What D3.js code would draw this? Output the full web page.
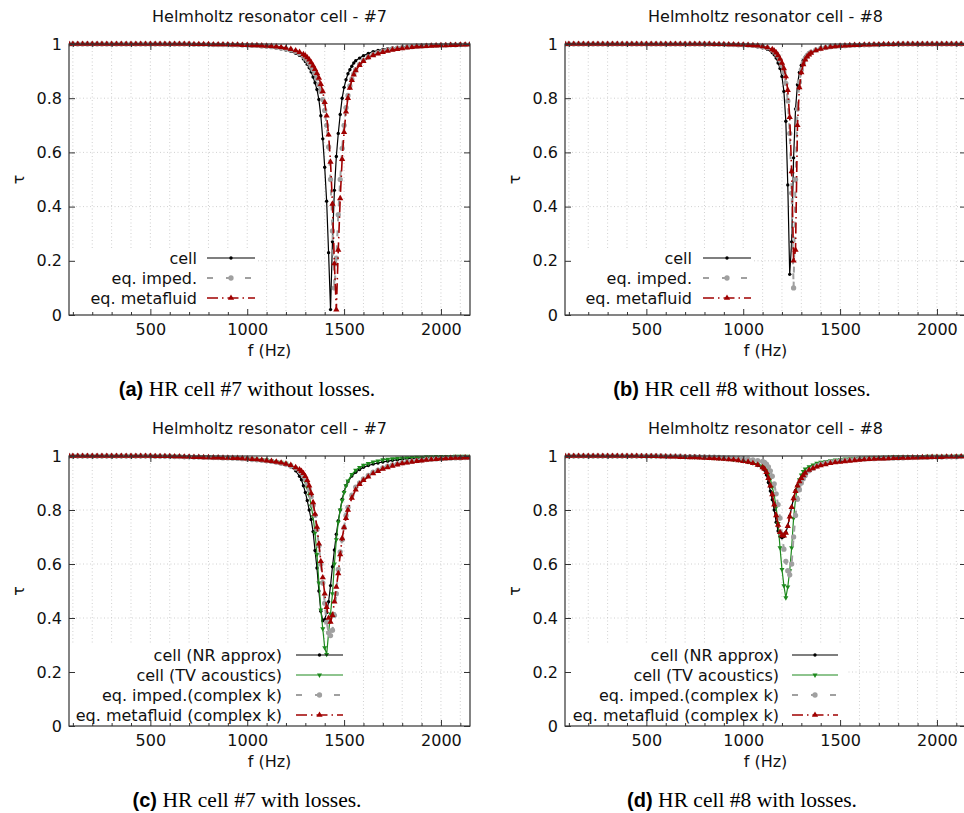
<!DOCTYPE html>
<html>
<head>
<meta charset="utf-8">
<script src="https://cdn.jsdelivr.net/npm/d3@7"></script>
<style>
  body { margin: 0; background: #fff; }
  svg { display: block; }
</style>
</head>
<body>
<svg width="964" height="813"></svg>
<script>
// frequency grids (Hz) and transmission values

// (a) cell #7 without losses
var freqA = [80,
  100, 125, 150, 175, 200, 225, 250, 275, 300, 325, 350, 375, 400, 425, 450, 475, 500,
  525, 550, 575, 600, 625, 650, 675, 700,
  725, 750, 775, 800, 825, 850, 875, 900, 925, 950, 975, 1000, 1025, 1050, 1075, 1100,
  1125, 1150, 1175, 1200, 1225, 1250,
  1270, 1290,
  1300, 1310, 1320, 1330, 1340, 1350, 1360, 1370, 1380, 1390, 1400, 1410, 1420, 1430,
  1440, 1450, 1460, 1470, 1480, 1490, 1500, 1510, 1520, 1530, 1540, 1550, 1560,
  1580,
  1600, 1625, 1650, 1675, 1700, 1725, 1750, 1775, 1800, 1825, 1850, 1875, 1900, 1925,
  1950, 1975, 2000, 2025, 2050, 2075, 2100, 2125, 2150];
var cellA = [1,
  1, 1, 1, 1, 1, 1, 1, 1, 1, 1, 1, 1, 1, 1, 1, 1, 1,
  1, 1, 1, 1, 1, 1, 1, 1,
  0.999, 0.999, 0.999, 0.999, 0.998, 0.998, 0.997, 0.997, 0.996, 0.996, 0.995, 0.995, 0.994, 0.993, 0.991, 0.99,
  0.988, 0.985, 0.982, 0.978, 0.973, 0.966,
  0.958, 0.945,
  0.935, 0.925, 0.912, 0.897, 0.878, 0.857, 0.832, 0.795, 0.735, 0.65, 0.545, 0.42, 0.23, 0.02,
  0.27, 0.46, 0.585, 0.67, 0.74, 0.80, 0.84, 0.868, 0.89, 0.905, 0.918, 0.93, 0.938,
  0.948,
  0.957, 0.965, 0.972, 0.976, 0.98, 0.983, 0.985, 0.987, 0.989, 0.991, 0.992, 0.993, 0.994, 0.995,
  0.996, 0.996, 0.997, 0.997, 0.998, 0.998, 0.999, 0.999, 0.999];
var impedA = [1,
  1, 1, 1, 1, 1, 1, 1, 1, 1, 1, 1, 1, 1, 1, 1, 1, 1,
  1, 1, 1, 1, 1, 1, 1, 1,
  0.999, 0.999, 0.999, 0.999, 0.998, 0.998, 0.998, 0.998, 0.997, 0.997, 0.996, 0.996, 0.995, 0.995, 0.993, 0.992,
  0.99, 0.988, 0.985, 0.982, 0.978, 0.972,
  0.965, 0.955,
  0.948, 0.94, 0.93, 0.918, 0.905, 0.89, 0.872, 0.85, 0.825, 0.795, 0.755, 0.70, 0.62, 0.50,
  0.31, 0.10, 0.21, 0.37, 0.50, 0.615, 0.70, 0.765, 0.81, 0.845, 0.87, 0.89, 0.905,
  0.925,
  0.94, 0.952, 0.962, 0.968, 0.974, 0.978, 0.982, 0.985, 0.987, 0.989, 0.99, 0.992, 0.993, 0.994,
  0.995, 0.995, 0.996, 0.996, 0.997, 0.997, 0.998, 0.998, 0.999];
var metaA = [1,
  1, 1, 1, 1, 1, 1, 1, 1, 1, 1, 1, 1, 1, 1, 1, 1, 1,
  1, 1, 1, 1, 1, 1, 1, 1,
  0.999, 0.999, 0.999, 0.999, 0.998, 0.998, 0.998, 0.998, 0.997, 0.997, 0.996, 0.996, 0.995, 0.995, 0.994, 0.993,
  0.992, 0.99, 0.988, 0.985, 0.981, 0.976,
  0.97, 0.962,
  0.957, 0.95, 0.942, 0.932, 0.92, 0.907, 0.892, 0.875, 0.852, 0.825, 0.785, 0.735, 0.665, 0.565,
  0.41, 0.19, 0.02, 0.24, 0.43, 0.575, 0.675, 0.75, 0.80, 0.838, 0.866, 0.887, 0.902,
  0.922,
  0.937, 0.95, 0.958, 0.964, 0.97, 0.974, 0.978, 0.981, 0.984, 0.986, 0.988, 0.99, 0.991, 0.992,
  0.993, 0.994, 0.995, 0.995, 0.996, 0.996, 0.997, 0.997, 0.998];

// (b) cell #8 without losses
var freqB = [80,
  100, 125, 150, 175, 200, 225, 250, 275, 300, 325, 350, 375, 400, 425, 450,
  475, 500, 525, 550, 575, 600, 625, 650, 675, 700, 725, 750, 775, 800, 825,
  850, 875, 900, 925, 950, 975, 1000, 1025, 1050, 1075, 1100, 1125,
  1150, 1160, 1170, 1180, 1190, 1200, 1210, 1220, 1230, 1240, 1250,
  1260, 1270, 1280, 1290, 1300, 1310, 1320, 1330, 1340, 1350,
  1375, 1400, 1425, 1450, 1475, 1500, 1525, 1550, 1575, 1600, 1625, 1650, 1675, 1700, 1725, 1750, 1775,
  1800, 1825, 1850, 1875, 1900, 1925, 1950, 1975, 2000, 2025, 2050, 2075, 2100, 2125, 2150];
var cellB = [1,
  1, 1, 1, 1, 1, 1, 1, 1, 1, 1, 1, 1, 1, 1, 1,
  1, 1, 1, 1, 1, 1, 1, 1, 1, 1, 1, 1, 1, 1, 1,
  0.999, 0.999, 0.998, 0.998, 0.997, 0.997, 0.996, 0.995, 0.993, 0.99, 0.986, 0.98,
  0.968, 0.96, 0.948, 0.93, 0.91, 0.88, 0.825, 0.715, 0.48, 0.15, 0.27,
  0.58, 0.76, 0.85, 0.895, 0.922, 0.94, 0.952, 0.961, 0.967, 0.972,
  0.98, 0.985, 0.988, 0.991, 0.993, 0.994, 0.995, 0.996, 0.996, 0.997, 0.997, 0.998, 0.998, 0.999, 0.999, 0.999, 0.999,
  1, 1, 1, 1, 1, 1, 1, 1, 1, 1, 1, 1, 1, 1, 1];
var impedB = [1,
  1, 1, 1, 1, 1, 1, 1, 1, 1, 1, 1, 1, 1, 1, 1,
  1, 1, 1, 1, 1, 1, 1, 1, 1, 1, 1, 1, 1, 1, 1,
  0.999, 0.999, 0.999, 0.998, 0.998, 0.997, 0.997, 0.996, 0.995, 0.993, 0.99, 0.986,
  0.978, 0.972, 0.965, 0.955, 0.94, 0.92, 0.895, 0.855, 0.79, 0.67, 0.45,
  0.10, 0.50, 0.76, 0.86, 0.905, 0.93, 0.946, 0.957, 0.965, 0.97,
  0.978, 0.984, 0.987, 0.99, 0.992, 0.993, 0.994, 0.995, 0.996, 0.996, 0.997, 0.997, 0.998, 0.998, 0.999, 0.999, 0.999,
  1, 1, 1, 1, 1, 1, 1, 1, 1, 1, 1, 1, 1, 1, 1];
var metaB = [1,
  1, 1, 1, 1, 1, 1, 1, 1, 1, 1, 1, 1, 1, 1, 1,
  1, 1, 1, 1, 1, 1, 1, 1, 1, 1, 1, 1, 1, 1, 1,
  0.999, 0.999, 0.999, 0.998, 0.998, 0.997, 0.997, 0.996, 0.995, 0.994, 0.991, 0.987,
  0.98, 0.975, 0.968, 0.958, 0.945, 0.93, 0.91, 0.88, 0.83, 0.73, 0.53,
  0.20, 0.24, 0.70, 0.84, 0.895, 0.925, 0.942, 0.953, 0.961, 0.967,
  0.976, 0.982, 0.986, 0.989, 0.991, 0.993, 0.994, 0.995, 0.996, 0.996, 0.997, 0.997, 0.998, 0.998, 0.999, 0.999, 0.999,
  1, 1, 1, 1, 1, 1, 1, 1, 1, 1, 1, 1, 1, 1, 1];

// (c) cell #7 with losses
var freqC = [80,
  100, 125, 150, 175, 200, 225, 250, 275, 300, 325, 350, 375, 400, 425, 450, 475, 500,
  525, 550, 575, 600, 625, 650, 675, 700, 725, 750, 775, 800, 825, 850, 875, 900,
  925, 950, 975, 1000, 1025, 1050, 1075, 1100, 1125, 1150, 1175, 1200, 1225, 1250,
  1270, 1280, 1290,
  1300, 1310, 1320, 1330, 1340, 1350, 1360, 1370, 1380, 1390, 1400, 1410,
  1420, 1430, 1440, 1450, 1460, 1470, 1480, 1490, 1500, 1510, 1520,
  1540, 1560, 1580,
  1600, 1625, 1650, 1675, 1700, 1725, 1750, 1775, 1800, 1825, 1850, 1875, 1900, 1925,
  1950, 1975, 2000, 2025, 2050, 2075, 2100, 2125, 2150];
var cellC = [1,
  1, 1, 1, 1, 1, 1, 1, 1, 1, 1, 1, 1, 1, 1, 1, 1, 1,
  0.999, 0.999, 0.999, 0.999, 0.998, 0.998, 0.997, 0.997, 0.996, 0.996, 0.995, 0.995, 0.994, 0.994, 0.993, 0.992,
  0.991, 0.99, 0.989, 0.988, 0.986, 0.985, 0.983, 0.981, 0.979, 0.976, 0.973, 0.97, 0.96, 0.945,
  0.925, 0.912, 0.89,
  0.865, 0.835, 0.80, 0.765, 0.72, 0.65, 0.585, 0.50, 0.425, 0.39, 0.395, 0.42,
  0.46, 0.52, 0.59, 0.652, 0.71, 0.76, 0.80, 0.84, 0.868, 0.89, 0.905,
  0.926, 0.94, 0.95,
  0.958, 0.965, 0.97, 0.974, 0.978, 0.981, 0.984, 0.986, 0.988, 0.99, 0.991, 0.992, 0.993, 0.994,
  0.994, 0.995, 0.995, 0.996, 0.996, 0.997, 0.997, 0.997, 0.997];
var tvC = [1,
  1, 1, 1, 1, 1, 1, 1, 1, 1, 1, 1, 1, 1, 1, 1, 1, 1,
  0.999, 0.999, 0.999, 0.999, 0.999, 0.999, 0.998, 0.998, 0.998, 0.998, 0.997, 0.997, 0.996, 0.996, 0.995, 0.995,
  0.994, 0.993, 0.992, 0.991, 0.99, 0.988, 0.987, 0.985, 0.983, 0.98, 0.977, 0.973, 0.966, 0.956,
  0.944, 0.935, 0.922,
  0.905, 0.883, 0.855, 0.815, 0.775, 0.715, 0.635, 0.53, 0.43, 0.36, 0.29, 0.265,
  0.345, 0.415, 0.49, 0.60, 0.69, 0.755, 0.80, 0.835, 0.865, 0.89, 0.908,
  0.932, 0.947, 0.958,
  0.966, 0.972, 0.978, 0.982, 0.986, 0.988, 0.99, 0.992, 0.993, 0.994, 0.995, 0.996, 0.996, 0.997,
  0.997, 0.998, 0.998, 0.998, 0.998, 0.999, 0.999, 0.999, 0.999];
var impedC = [1,
  1, 1, 1, 1, 1, 1, 1, 1, 1, 1, 1, 1, 1, 1, 1, 1, 1,
  0.999, 0.999, 0.999, 0.999, 0.998, 0.998, 0.997, 0.997, 0.996, 0.996, 0.995, 0.995, 0.994, 0.994, 0.993, 0.993,
  0.992, 0.991, 0.99, 0.989, 0.987, 0.986, 0.984, 0.982, 0.98, 0.977, 0.973, 0.969, 0.963, 0.955,
  0.945, 0.937, 0.926,
  0.913, 0.896, 0.875, 0.85, 0.818, 0.78, 0.728, 0.668, 0.60, 0.53, 0.455, 0.385,
  0.345, 0.335, 0.355, 0.41, 0.49, 0.58, 0.645, 0.69, 0.735, 0.78, 0.81,
  0.855, 0.885, 0.90,
  0.915, 0.928, 0.94, 0.948, 0.956, 0.962, 0.967, 0.971, 0.975, 0.978, 0.981, 0.983, 0.985, 0.987,
  0.988, 0.989, 0.99, 0.991, 0.992, 0.993, 0.993, 0.994, 0.994];
var metaC = [1,
  1, 1, 1, 1, 1, 1, 1, 1, 1, 1, 1, 1, 1, 1, 1, 1, 1,
  0.999, 0.999, 0.999, 0.999, 0.998, 0.998, 0.997, 0.997, 0.996, 0.996, 0.995, 0.995, 0.994, 0.994, 0.993, 0.993,
  0.992, 0.992, 0.991, 0.99, 0.988, 0.987, 0.985, 0.983, 0.981, 0.978, 0.975, 0.971, 0.966, 0.958,
  0.95, 0.944, 0.936,
  0.925, 0.91, 0.89, 0.862, 0.828, 0.785, 0.737, 0.675, 0.61, 0.55, 0.49, 0.44,
  0.40, 0.385, 0.41, 0.46, 0.515, 0.565, 0.635, 0.695, 0.735, 0.77, 0.80,
  0.845, 0.875, 0.896,
  0.91, 0.923, 0.935, 0.944, 0.952, 0.958, 0.963, 0.968, 0.972, 0.975, 0.978, 0.981, 0.983, 0.985,
  0.987, 0.988, 0.99, 0.991, 0.992, 0.993, 0.993, 0.994, 0.994];

// (d) cell #8 with losses
var freqD = [80,
  100, 125, 150, 175, 200, 225, 250, 275, 300, 325, 350, 375, 400, 425, 450,
  475, 500, 525, 550, 575, 600, 625, 650, 675, 700, 725, 750, 775, 800, 825, 850, 875,
  900, 925, 950, 975, 1000, 1025, 1050, 1075, 1100,
  1110, 1120, 1130, 1140, 1150, 1160, 1170, 1180, 1190, 1200, 1210,
  1220, 1230, 1240, 1250, 1260, 1270, 1280, 1290, 1300, 1310, 1320,
  1340, 1360, 1380,
  1400, 1425, 1450, 1475, 1500, 1525, 1550, 1575, 1600, 1625, 1650, 1675, 1700, 1725, 1750, 1775,
  1800, 1825, 1850, 1875, 1900, 1925, 1950, 1975, 2000, 2025, 2050, 2075, 2100, 2125, 2150];
var cellD = [1,
  1, 1, 1, 1, 1, 1, 1, 1, 1, 1, 1, 1, 1, 1, 1,
  0.999, 0.999, 0.999, 0.999, 0.998, 0.998, 0.997, 0.997, 0.996, 0.996, 0.995, 0.995, 0.994, 0.993, 0.992, 0.991, 0.99,
  0.988, 0.987, 0.985, 0.983, 0.98, 0.977, 0.972, 0.965, 0.955,
  0.948, 0.93, 0.902, 0.87, 0.838, 0.80, 0.755, 0.722, 0.702, 0.697, 0.702,
  0.717, 0.74, 0.778, 0.81, 0.845, 0.872, 0.892, 0.908, 0.92, 0.93, 0.94,
  0.95, 0.956, 0.961,
  0.967, 0.97, 0.974, 0.977, 0.979, 0.981, 0.983, 0.985, 0.986, 0.987, 0.988, 0.989, 0.99, 0.991, 0.992, 0.992,
  0.993, 0.993, 0.994, 0.994, 0.995, 0.995, 0.996, 0.996, 0.996, 0.997, 0.997, 0.997, 0.998, 0.998, 0.998];
var tvD = [1,
  1, 1, 1, 1, 1, 1, 1, 1, 1, 1, 1, 1, 1, 1, 1,
  1, 1, 0.999, 0.999, 0.999, 0.999, 0.998, 0.998, 0.998, 0.997, 0.997, 0.996, 0.996, 0.995, 0.994, 0.993, 0.992,
  0.991, 0.99, 0.988, 0.986, 0.983, 0.979, 0.975, 0.97, 0.963,
  0.957, 0.948, 0.935, 0.915, 0.885, 0.855, 0.81, 0.75, 0.66, 0.58, 0.52,
  0.475, 0.515, 0.575, 0.66, 0.77, 0.84, 0.885, 0.912, 0.93, 0.943, 0.952,
  0.96, 0.967, 0.973,
  0.977, 0.98, 0.983, 0.985, 0.987, 0.989, 0.99, 0.991, 0.992, 0.993, 0.994, 0.995, 0.995, 0.996, 0.996, 0.997,
  0.997, 0.997, 0.998, 0.998, 0.998, 0.998, 0.999, 0.999, 0.999, 0.999, 0.999, 0.999, 1, 1, 1];
var impedD = [1,
  1, 1, 1, 1, 1, 1, 1, 1, 1, 1, 1, 1, 1, 1, 1,
  1, 1, 1, 1, 1, 0.999, 0.999, 0.999, 0.999, 0.998, 0.998, 0.998, 0.997, 0.997, 0.996, 0.996, 0.995,
  0.994, 0.993, 0.992, 0.991, 0.99, 0.988, 0.986, 0.983, 0.98,
  0.976, 0.97, 0.96, 0.945, 0.925, 0.897, 0.86, 0.82, 0.77, 0.71, 0.655,
  0.61, 0.575, 0.56, 0.60, 0.70, 0.78, 0.84, 0.875, 0.90, 0.916, 0.928,
  0.945, 0.955, 0.963,
  0.97, 0.974, 0.978, 0.98, 0.983, 0.985, 0.986, 0.987, 0.988, 0.989, 0.99, 0.99, 0.991, 0.991, 0.992, 0.992,
  0.993, 0.993, 0.994, 0.994, 0.995, 0.995, 0.995, 0.996, 0.996, 0.996, 0.997, 0.997, 0.997, 0.998, 0.998];
var metaD = [1,
  1, 1, 1, 1, 1, 1, 1, 1, 1, 1, 1, 1, 1, 1, 1,
  0.999, 0.999, 0.999, 0.999, 0.998, 0.998, 0.997, 0.997, 0.996, 0.996, 0.995, 0.995, 0.994, 0.993, 0.992, 0.991, 0.99,
  0.989, 0.987, 0.986, 0.984, 0.981, 0.978, 0.973, 0.967, 0.958,
  0.952, 0.94, 0.918, 0.89, 0.858, 0.82, 0.78, 0.745, 0.718, 0.706, 0.705,
  0.715, 0.74, 0.775, 0.81, 0.843, 0.87, 0.89, 0.906, 0.918, 0.928, 0.937,
  0.948, 0.954, 0.96,
  0.965, 0.969, 0.973, 0.976, 0.978, 0.98, 0.982, 0.984, 0.985, 0.987, 0.988, 0.989, 0.99, 0.99, 0.991, 0.992,
  0.992, 0.993, 0.993, 0.994, 0.994, 0.995, 0.995, 0.996, 0.996, 0.996, 0.997, 0.997, 0.997, 0.998, 0.998];

var xTicks = [500, 1000, 1500, 2000];
var yTicks = [0, 0.2, 0.4, 0.6, 0.8, 1];

// line styles, gnuplot-ish
var styles = {
  cell:  { color: "#000000", width: 1.2, dash: null,        key: null,         marker: "dot" },
  tv:    { color: "#1e8a1e", width: 1.2, dash: null,        key: null,         marker: "tridown" },
  imped: { color: "#a0a0a0", width: 2,   dash: "6,9",       key: "6,13",       marker: "circle" },
  meta:  { color: "#a00000", width: 1.6, dash: "11,4,1.5,4", key: "11,4,1.5,4", marker: "triup" }
};

var panels = [
  { left: 69, top: 44, h: 271, title: "Helmholtz resonator cell - #7", freq: freqA,
    series: [["cell", "cell", cellA], ["eq. imped.", "imped", impedA], ["eq. metafluid", "meta", metaA]],
    leg: { tx: 128, x0: 138, x1: 186, y0: 214, boxW: 188 },
    tag: "(a)", caption: "HR cell #7 without losses.", capX: 247, capY: 396 },
  { left: 565, top: 44, h: 271, title: "Helmholtz resonator cell - #8", freq: freqB,
    series: [["cell", "cell", cellB], ["eq. imped.", "imped", impedB], ["eq. metafluid", "meta", metaB]],
    leg: { tx: 127, x0: 138, x1: 186, y0: 214, boxW: 188 },
    tag: "(b)", caption: "HR cell #8 without losses.", capX: 742, capY: 396 },
  { left: 69, top: 456, h: 270, title: "Helmholtz resonator cell - #7", freq: freqC,
    series: [["cell (NR approx)", "cell", cellC], ["cell (TV acoustics)", "tv", tvC],
             ["eq. imped.(complex k)", "imped", impedC], ["eq. metafluid (complex k)", "meta", metaC]],
    leg: { tx: 213, x0: 227, x1: 274, y0: 199, boxW: 283 },
    tag: "(c)", caption: "HR cell #7 with losses.", capX: 247, capY: 807 },
  { left: 565, top: 456, h: 270, title: "Helmholtz resonator cell - #8", freq: freqD,
    series: [["cell (NR approx)", "cell", cellD], ["cell (TV acoustics)", "tv", tvD],
             ["eq. imped.(complex k)", "imped", impedD], ["eq. metafluid (complex k)", "meta", metaD]],
    leg: { tx: 214, x0: 227, x1: 273, y0: 199, boxW: 283 },
    tag: "(d)", caption: "HR cell #8 with losses.", capX: 742, capY: 807 }
];

var svg = d3.select("svg");
var W = 401;
var font = "DejaVu Sans, sans-serif";

function markerPath(type) {
  if (type == "dot") return d3.symbol().type(d3.symbolCircle).size(9)();
  if (type == "circle") return d3.symbol().type(d3.symbolCircle).size(22)();
  if (type == "triup") return d3.symbol().type(d3.symbolTriangle).size(17)();
  return d3.symbol().type(d3.symbolTriangle).size(11)();
}

function addMarker(sel, type, color, x, y) {
  sel.append("path")
    .attr("d", markerPath(type))
    .attr("transform", "translate(" + x + "," + y + ")" + (type == "tridown" ? " rotate(180)" : ""))
    .attr("fill", color);
}

panels.forEach(function(p, pi) {
  var x = d3.scaleLinear().domain([80, 2150]).range([0, W]);
  var y = d3.scaleLinear().domain([0, 1]).range([p.h, 0]);
  var g = svg.append("g").attr("transform", "translate(" + p.left + "," + p.top + ")");

  // grid
  var minorX = d3.range(100, 2101, 100);
  g.append("g").selectAll("line").data(minorX).enter().append("line")
    .attr("x1", d => x(d)).attr("x2", d => x(d)).attr("y1", 0).attr("y2", p.h)
    .attr("stroke", "#c4c4c4").attr("stroke-width", 0.8).attr("stroke-dasharray", "1,2.5");
  g.append("g").selectAll("line").data([0.2, 0.4, 0.6, 0.8]).enter().append("line")
    .attr("x1", 0).attr("x2", W).attr("y1", d => y(d)).attr("y2", d => y(d))
    .attr("stroke", "#c4c4c4").attr("stroke-width", 0.8).attr("stroke-dasharray", "1,2.5");

  // opaque key box (covers the grid only)
  g.append("rect").attr("x", 0).attr("y", p.leg.y0 - 10)
    .attr("width", p.leg.boxW).attr("height", p.h - p.leg.y0 + 10).attr("fill", "#fff");

  // curves
  var clipId = "clip" + pi;
  g.append("clipPath").attr("id", clipId).append("rect")
    .attr("x", 0).attr("y", -4).attr("width", W).attr("height", p.h + 4);
  var plot = g.append("g").attr("clip-path", "url(#" + clipId + ")");
  p.series.forEach(function(s) {
    var st = styles[s[1]];
    var pts = p.freq.map((f, i) => [f, s[2][i]]).filter(d => d[1] != null);
    plot.append("path").datum(pts)
      .attr("d", d3.line().x(d => x(d[0])).y(d => y(d[1])))
      .attr("fill", "none").attr("stroke", st.color).attr("stroke-width", st.width)
      .attr("stroke-dasharray", st.dash);
    var mk = plot.append("g");
    pts.forEach(function(d) { addMarker(mk, st.marker, st.color, x(d[0]), y(d[1])); });
  });

  // axes, ticks pointing inward on all sides
  var minorOnly = minorX.filter(d => d % 500);
  g.append("g").attr("transform", "translate(0," + p.h + ")")
    .call(d3.axisBottom(x).tickValues(xTicks).tickSize(-6).tickPadding(9).tickSizeOuter(0)
      .tickFormat(d3.format("d")));
  g.append("g").attr("transform", "translate(0," + p.h + ")")
    .call(d3.axisBottom(x).tickValues(minorOnly).tickSize(-3).tickFormat(""));
  g.append("g").call(d3.axisTop(x).tickValues(xTicks).tickSize(-6).tickFormat(""));
  g.append("g").call(d3.axisTop(x).tickValues(minorOnly).tickSize(-3).tickFormat(""));
  g.append("g")
    .call(d3.axisLeft(y).tickValues(yTicks).tickSize(-6).tickPadding(7).tickFormat(d3.format("~g")));
  g.append("g").attr("transform", "translate(" + W + ",0)")
    .call(d3.axisRight(y).tickValues(yTicks).tickSize(-6).tickFormat(""));
  g.selectAll(".domain").remove();
  g.selectAll(".tick text").attr("font-family", font).attr("font-size", 16).attr("fill", "#111");
  g.selectAll(".tick line").attr("stroke", "#333");

  g.append("rect").attr("width", W).attr("height", p.h)
    .attr("fill", "none").attr("stroke", "#333").attr("stroke-width", 1.2);

  // key
  p.series.forEach(function(s, i) {
    var st = styles[s[1]];
    var ry = p.leg.y0 + i * 20;
    g.append("text").attr("x", p.leg.tx).attr("y", ry).attr("dy", "0.35em")
      .attr("text-anchor", "end").attr("font-family", font).attr("font-size", 16).attr("fill", "#111")
      .text(s[0]);
    g.append("line").attr("x1", p.leg.x0).attr("x2", p.leg.x1).attr("y1", ry).attr("y2", ry)
      .attr("stroke", st.color).attr("stroke-width", st.width).attr("stroke-dasharray", st.key);
    addMarker(g, st.marker, st.color, (p.leg.x0 + p.leg.x1) / 2, ry);
  });

  // titles and labels
  g.append("text").attr("x", W / 2).attr("y", -22).attr("text-anchor", "middle")
    .attr("font-family", font).attr("font-size", 16).attr("fill", "#111").text(p.title);
  g.append("text").attr("x", W / 2).attr("y", p.h + 41).attr("text-anchor", "middle")
    .attr("font-family", font).attr("font-size", 16).attr("fill", "#111").text("f (Hz)");
  g.append("text").attr("transform", "translate(-51," + (p.h / 2) + ") rotate(-90)")
    .attr("text-anchor", "middle").attr("dy", "0.35em")
    .attr("font-family", font).attr("font-size", 16).attr("fill", "#111").text("τ");

  // sub-figure caption
  var cap = svg.append("text").attr("x", p.capX).attr("y", p.capY).attr("text-anchor", "middle");
  cap.append("tspan").attr("font-family", "Liberation Sans, Arial, sans-serif")
    .attr("font-weight", "bold").attr("font-size", 20).text(p.tag + " ");
  cap.append("tspan").attr("font-family", "Liberation Serif, Times New Roman, serif")
    .attr("font-size", 21.5).text(p.caption);
});
</script>
</body>
</html>
